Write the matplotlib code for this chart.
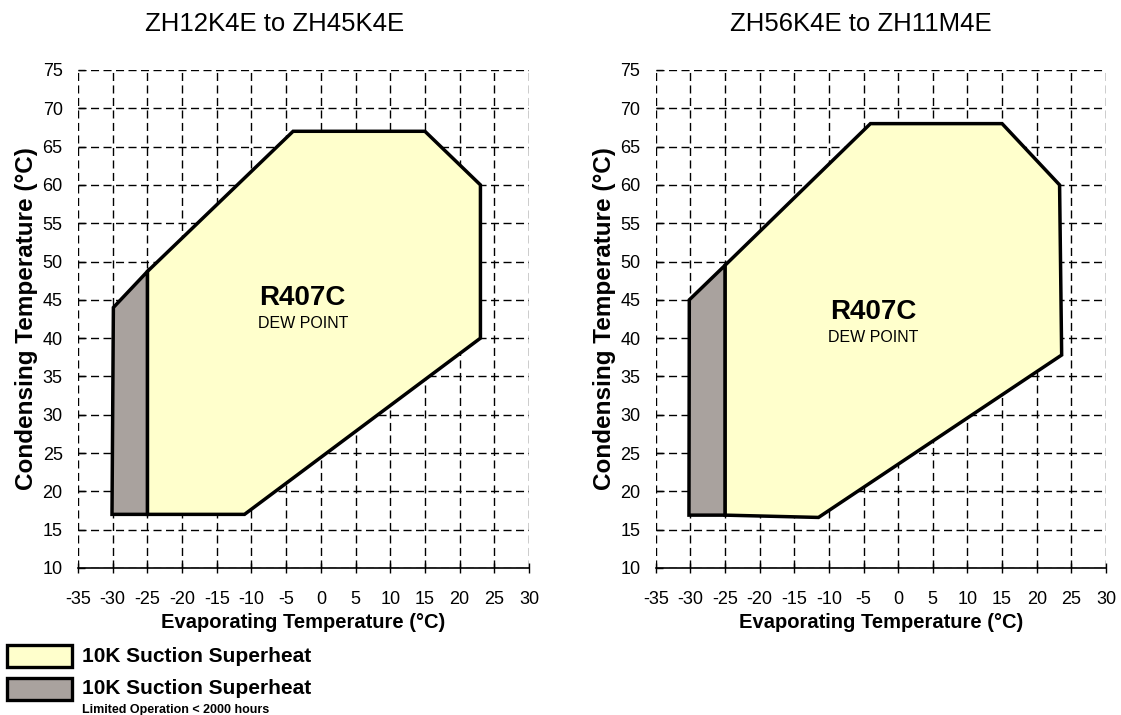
import matplotlib
matplotlib.use('Agg')
import matplotlib.pyplot as plt
from matplotlib.patches import Polygon, Rectangle

plt.rcParams['font.family'] = ['Liberation Sans', 'DejaVu Sans']

W, H = 1121, 715

titles = ["ZH12K4E to ZH45K4E", "ZH56K4E to ZH11M4E"]
x_ticks = list(range(-35, 31, 5))
y_ticks = list(range(10, 76, 5))

# Left chart envelope (evaporating, condensing)
left_main_evap = [-25, -4, 15, 23, 23, -11, -25]
left_main_cond = [48.7, 67, 67, 60, 40, 17, 17]
left_lim_evap = [-29.9, -25, -25, -30.1]
left_lim_cond = [44, 48.7, 17, 17]

# Right chart envelope
right_main_evap = [-25, -4, 15, 23.3, 23.6, -11.5, -25]
right_main_cond = [49.5, 68, 68, 60, 37.8, 16.6, 16.9]
right_lim_evap = [-30.15, -25, -25, -30.2]
right_lim_cond = [45, 49.5, 16.9, 16.9]

refrigerant = "R407C"
subtext = "DEW POINT"
label_pos = [(-2.6, 45.2, 41.9), (-3.6, 43.4, 40.1)]

legend_labels = ["10K Suction Superheat", "10K Suction Superheat"]
legend_note = "Limited Operation < 2000 hours"

yellow = '#FFFFCC'
gray = '#A9A29E'

fig = plt.figure(figsize=(W / 100, H / 100), dpi=100)

axes_px = [(78, 529), (655.7, 1106)]
top_px, bot_px = 70, 568
title_x = [275, 861]

datasets = [
    (left_main_evap, left_main_cond, left_lim_evap, left_lim_cond),
    (right_main_evap, right_main_cond, right_lim_evap, right_lim_cond),
]

for i, (l, r) in enumerate(axes_px):
    ax = fig.add_axes([l / W, 1 - bot_px / H, (r - l) / W, (bot_px - top_px) / H])
    ax.set_xlim(-35, 30)
    ax.set_ylim(10, 75)
    ax.set_xticks(x_ticks)
    ax.set_yticks(y_ticks)
    ax.set_xticklabels([str(v) for v in x_ticks], fontsize=13)
    ax.set_yticklabels([str(v) for v in y_ticks], fontsize=13)
    ax.grid(True, color='black', linestyle=(0, (5.8, 3.2)), linewidth=1.0, zorder=0)
    ax.set_axisbelow(True)
    for s in ['top', 'right', 'left']:
        ax.spines[s].set_visible(False)
    ax.spines['bottom'].set_linewidth(1.2)
    ax.spines['bottom'].set_zorder(5)
    ax.tick_params(axis='x', direction='inout', length=7, width=1.0, pad=13)
    ax.tick_params(axis='y', direction='in', length=5, width=1.0, pad=11)

    me, mc, le, lc = datasets[i]
    ax.add_patch(Polygon(list(zip(me, mc)), closed=True, facecolor=yellow,
                         edgecolor='black', linewidth=2.5, joinstyle='miter', zorder=2))
    ax.add_patch(Polygon(list(zip(le, lc)), closed=True, facecolor=gray,
                         edgecolor='black', linewidth=2.5, joinstyle='miter', zorder=3))

    tx, ty1, ty2 = label_pos[i]
    ax.text(tx, ty1, refrigerant, fontsize=20, fontweight='bold', ha='center', va='center', zorder=6)
    ax.text(tx, ty2, subtext, fontsize=11.5, ha='center', va='center', zorder=6)

    ax.set_xlabel("Evaporating Temperature (°C)", fontsize=14.5, fontweight='bold', labelpad=4)
    ax.set_ylabel("Condensing Temperature (°C)", fontsize=17.5, fontweight='bold', labelpad=3)

    fig.text(title_x[i] / W, 1 - 24 / H, titles[i], fontsize=18.5, ha='center', va='center')

# Legend
boxes = [(645, yellow), (678, gray)]
for (ytop, col), lab in zip(boxes, legend_labels):
    fig.add_artist(Rectangle((7 / W, 1 - (ytop + 22) / H), 65 / W, 22 / H,
                             transform=fig.transFigure, facecolor=col,
                             edgecolor='black', linewidth=2.4))
    fig.text(82 / W, 1 - (ytop + 11) / H, lab, fontsize=15, fontweight='bold',
             ha='left', va='center')
fig.text(82 / W, 1 - 710 / H, legend_note, fontsize=9, fontweight='bold',
         ha='left', va='center')

fig.savefig('out.png', dpi=100)
